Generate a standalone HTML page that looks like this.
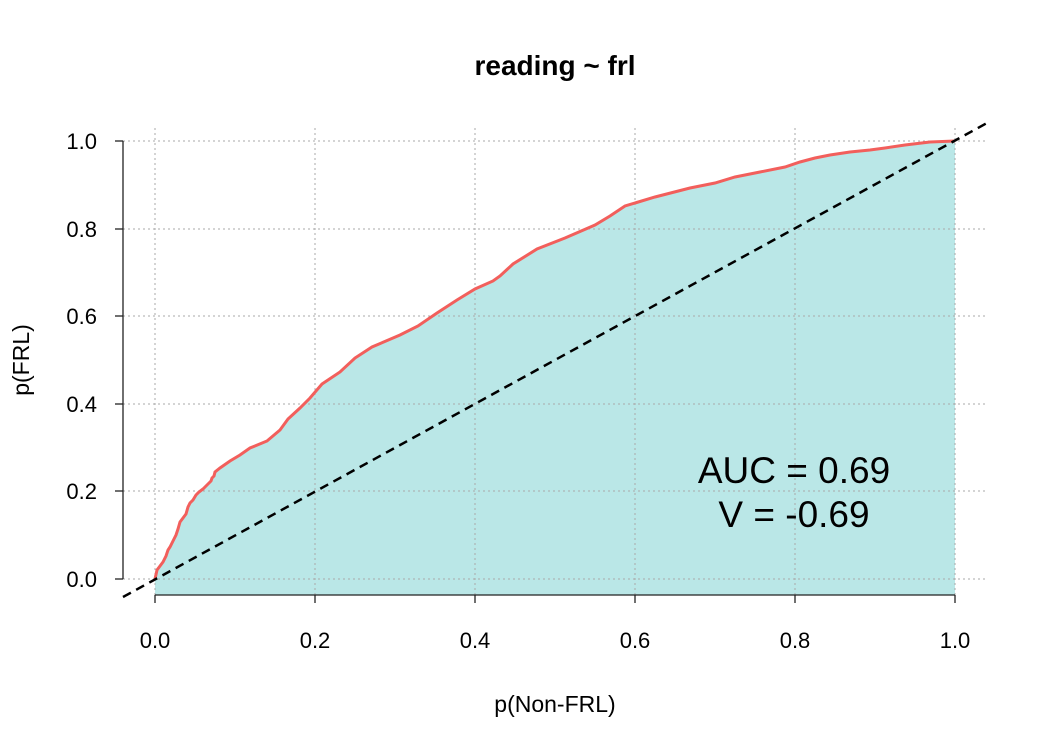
<!DOCTYPE html>
<html><head><style>body{margin:0;background:#fff}svg{display:block}text{font-family:"Liberation Sans",Arial,sans-serif;fill:#000}</style></head><body>
<svg width="1050" height="750" viewBox="0 0 1050 750">
<polygon fill="#bae7e7" points="155,595 155,579 157,570 160,566 163,562 166,556 168,550 170,547 173,541 176,535 178,529 180,522 183,518 186,514 188,507 190,503 193,500 196,495 199,492 203,489 207,485 211,481 212,478 214,476 215,472 220,468 230,461 240,455 250,448 267,441 280,430 288,419 300,408 310,398 322,384 340,372 355,358 372,347 400,335 418,326 437,313 457,300 475,289 493,281 500,276 513,264 537,249 565,238 595,225 610,216 625,206 655,197 690,188 715,183 735,177 760,172 785,167 800,162 815,158 830,155 850,152 870,150 885,148 905,145 930,142 955,141 955,595"/>
<g stroke="#aaa" stroke-width="1" stroke-dasharray="2,3">
<line x1="155" y1="128" x2="155" y2="595"/><line x1="315" y1="128" x2="315" y2="595"/><line x1="475" y1="128" x2="475" y2="595"/><line x1="635" y1="128" x2="635" y2="595"/><line x1="795" y1="128" x2="795" y2="595"/><line x1="955" y1="128" x2="955" y2="595"/>
<line x1="123" y1="141" x2="987" y2="141"/><line x1="123" y1="229" x2="987" y2="229"/><line x1="123" y1="316" x2="987" y2="316"/><line x1="123" y1="404" x2="987" y2="404"/><line x1="123" y1="491" x2="987" y2="491"/><line x1="123" y1="579" x2="987" y2="579"/>
</g>
<polyline fill="none" stroke="#f25f5c" stroke-width="3" points="155,579 157,570 160,566 163,562 166,556 168,550 170,547 173,541 176,535 178,529 180,522 183,518 186,514 188,507 190,503 193,500 196,495 199,492 203,489 207,485 211,481 212,478 214,476 215,472 220,468 230,461 240,455 250,448 267,441 280,430 288,419 300,408 310,398 322,384 340,372 355,358 372,347 400,335 418,326 437,313 457,300 475,289 493,281 500,276 513,264 537,249 565,238 595,225 610,216 625,206 655,197 690,188 715,183 735,177 760,172 785,167 800,162 815,158 830,155 850,152 870,150 885,148 905,145 930,142 955,141"/>
<line x1="123" y1="597" x2="987" y2="123" stroke="#000" stroke-width="2.5" stroke-dasharray="9,6"/>
<g stroke="#222" stroke-width="1.3">
<line x1="123" y1="141" x2="123" y2="579"/>
<line x1="115" y1="141" x2="123" y2="141"/><line x1="115" y1="229" x2="123" y2="229"/><line x1="115" y1="316" x2="123" y2="316"/><line x1="115" y1="404" x2="123" y2="404"/><line x1="115" y1="491" x2="123" y2="491"/><line x1="115" y1="579" x2="123" y2="579"/>
<line x1="155" y1="595" x2="955" y2="595"/>
<line x1="155" y1="595" x2="155" y2="603"/><line x1="315" y1="595" x2="315" y2="603"/><line x1="475" y1="595" x2="475" y2="603"/><line x1="635" y1="595" x2="635" y2="603"/><line x1="795" y1="595" x2="795" y2="603"/><line x1="955" y1="595" x2="955" y2="603"/>
</g>
<g font-size="22" text-anchor="end">
<text x="97" y="149">1.0</text><text x="97" y="237">0.8</text><text x="97" y="324">0.6</text><text x="97" y="412">0.4</text><text x="97" y="499">0.2</text><text x="97" y="587">0.0</text>
</g>
<g font-size="22" text-anchor="middle">
<text x="155" y="648">0.0</text><text x="315" y="648">0.2</text><text x="475" y="648">0.4</text><text x="635" y="648">0.6</text><text x="795" y="648">0.8</text><text x="955" y="648">1.0</text>
<text x="555" y="712" font-size="23">p(Non-FRL)</text>
<text x="29" y="360" font-size="23" transform="rotate(-90 29 360)">p(FRL)</text>
<text x="555" y="75" font-weight="bold" font-size="28">reading ~ frl</text>
<text x="794" y="483" font-size="37">AUC = 0.69</text>
<text x="794" y="527" font-size="37">V = -0.69</text>
</g>
</svg>
</body></html>
